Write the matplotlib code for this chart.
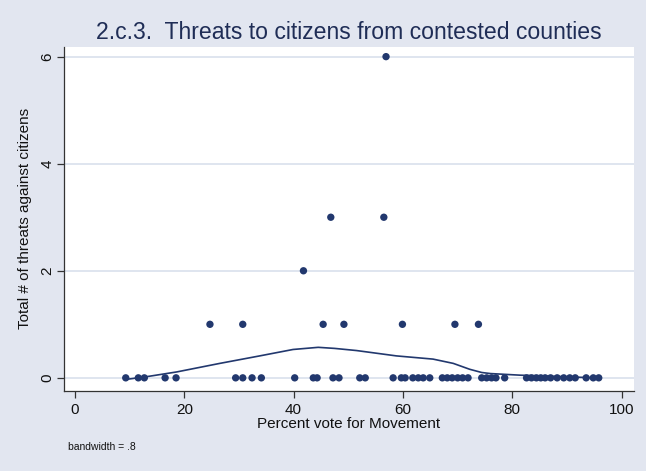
import matplotlib
matplotlib.use("Agg")
import matplotlib.pyplot as plt

# percent vote for Movement, grouped by number of threats against citizens
vote_0 = [9.3, 11.6, 12.7, 16.5, 18.5, 29.4, 30.7, 32.4, 34.1, 40.2, 43.6, 44.3,
          47.2, 48.3, 52.1, 53.1, 58.2, 59.7, 60.4, 61.8, 62.8, 63.7, 64.9,
          67.2, 68.1, 69.0, 70.0, 70.9, 71.9, 74.4, 75.3, 76.2, 77.0, 78.6,
          82.6, 83.5, 84.4, 85.2, 86.0, 87.0, 88.2, 89.4, 90.5, 91.5, 93.5,
          94.8, 95.8]
vote_1 = [24.7, 30.7, 45.4, 49.2, 59.9, 69.5, 73.8]
vote_2 = [41.8]
vote_3 = [46.8, 56.5]
vote_6 = [56.9]

# lowess smooth (bandwidth = .8)
smooth_x = [9.3, 13.0, 18.6, 26.5, 33.8, 39.9, 44.5, 47.5, 51.5, 58.8, 65.5,
            69.2, 72.2, 74.4, 76.0, 81.4, 87.0, 92.5, 95.8]
smooth_y = [-0.03, 0.02, 0.11, 0.27, 0.41, 0.53, 0.57, 0.55, 0.51, 0.41, 0.35,
            0.27, 0.16, 0.10, 0.08, 0.05, 0.03, 0.01, 0.0]

x_ticks = [0, 20, 40, 60, 80, 100]
y_ticks = [0, 2, 4, 6]

navy = "#22386E"
bg = "#E2E6F0"

plt.rcParams["font.family"] = ["Liberation Sans", "DejaVu Sans"]

fig = plt.figure(figsize=(6.46, 4.71), dpi=100, facecolor=bg)
ax = fig.add_axes([0.099, 0.1705, 0.882, 0.7297])
ax.set_facecolor("white")

xs, ys = [], []
for count, votes in [(0, vote_0), (1, vote_1), (2, vote_2), (3, vote_3), (6, vote_6)]:
    xs += votes
    ys += [count] * len(votes)

ax.plot(smooth_x, smooth_y, color=navy, lw=1.2, zorder=2)
ax.scatter(xs, ys, s=28, color=navy, edgecolors="none", zorder=3)

ax.set_xlim(-2.0, 102.2)
ax.set_ylim(-0.24, 6.18)
ax.set_xticks(x_ticks)
ax.set_yticks(y_ticks)
ax.grid(axis="y", color="#DCE3EE", lw=1.3, zorder=0)
ax.set_axisbelow(True)

for s in ["top", "right"]:
    ax.spines[s].set_visible(False)
for s in ["left", "bottom"]:
    ax.spines[s].set_color("#333333")
    ax.spines[s].set_linewidth(0.9)

ax.tick_params(direction="out", length=5, width=0.9, color="#333333",
               labelsize=11, labelcolor="#111111")
ax.tick_params(axis="y", labelrotation=90, pad=2)
for lab in ax.get_yticklabels():
    lab.set_va("center")

ax.set_xlabel("Percent vote for Movement", fontsize=11, labelpad=0, color="#111111")
ax.set_ylabel("Total # of threats against citizens", fontsize=11, labelpad=6, color="#111111")

fig.text(0.54, 0.93, "2.c.3.  Threats to citizens from contested counties",
         ha="center", va="center", fontsize=16.6, color="#1F2D56")
fig.text(0.105, 0.05, "bandwidth = .8", ha="left", va="center", fontsize=7.5, color="#111111")

fig.savefig("out.png", dpi=100, facecolor=bg)
